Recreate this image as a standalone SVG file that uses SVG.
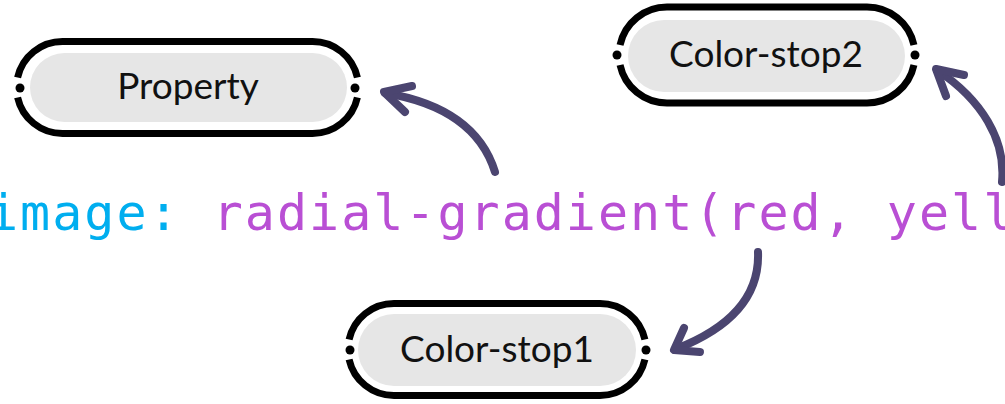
<svg xmlns="http://www.w3.org/2000/svg" width="1005" height="404" viewBox="0 0 1005 404">
<style>
.ring{fill:none;stroke:#000;stroke-width:7}
.dot{fill:#000}
.pill{fill:#e6e6e6}
.lbl{font-family:Lato,"Noto Sans",sans-serif;font-size:37px;fill:#111;text-anchor:middle}
.code{font-family:"DejaVu Sans Mono","Liberation Mono",monospace;font-size:50px;letter-spacing:2px}
.prop{fill:#00aeef}
.val{fill:#b94fd4}
.arr{fill:none;stroke:#4b4570;stroke-width:8;stroke-linecap:round;stroke-linejoin:round}
</style>
<rect width="1005" height="404" fill="#fff"/>
<text class="code" x="-12" y="230" xml:space="preserve"><tspan class="prop">image: </tspan><tspan class="val">radial-gradient(red, yell</tspan></text>
<g id="property">
<rect class="pill" x="30" y="53" width="317" height="69" rx="34.5"/>
<path class="ring" d="M17.6,77.5 A46,46 0 0 1 62.5,41.5 L312.5,41.5 A46,46 0 0 1 357.4,77.5"/>
<path class="ring" d="M357.4,97.5 A46,46 0 0 1 312.5,133.5 L62.5,133.5 A46,46 0 0 1 17.6,97.5"/>
<circle class="dot" cx="20" cy="88" r="4.5"/>
<circle class="dot" cx="355" cy="88" r="4.5"/>
<text class="lbl" x="188" y="99">Property</text>
</g>
<g id="color-stop2">
<rect class="pill" x="628" y="20" width="277" height="72" rx="36"/>
<path class="ring" d="M620.05,45 A48,48 0 0 1 667,7 L867,7 A48,48 0 0 1 913.95,45"/>
<path class="ring" d="M913.95,65 A48,48 0 0 1 867,103 L667,103 A48,48 0 0 1 620.05,65"/>
<circle class="dot" cx="617" cy="55" r="4.5"/>
<circle class="dot" cx="915" cy="55" r="4.5"/>
<text class="lbl" x="766" y="67">Color-stop2</text>
</g>
<g id="color-stop1">
<rect class="pill" x="358" y="314" width="278" height="72" rx="36"/>
<path class="ring" d="M349.1,339.5 A46,46 0 0 1 394,303.5 L600,303.5 A46,46 0 0 1 644.9,339.5"/>
<path class="ring" d="M644.9,359.5 A46,46 0 0 1 600,395.5 L394,395.5 A46,46 0 0 1 349.1,359.5"/>
<circle class="dot" cx="350" cy="350" r="4.5"/>
<circle class="dot" cx="646" cy="350" r="4.5"/>
<text class="lbl" x="497" y="362">Color-stop1</text>
</g>
<g id="connectors">
<path class="arr" d="M495,172 C482,130 445,103 385,93"/>
<path class="arr" d="M412,86 L384,92 L405,112"/>
<path class="arr" d="M1002,182 C1006,140 982,100 937,70"/>
<path class="arr" d="M964,75 L936,69 L946,96"/>
<path class="arr" d="M758,252 C760,300 725,330 676,349"/>
<path class="arr" d="M684,328 L674,350 L700,352"/>
</g>
</svg>
